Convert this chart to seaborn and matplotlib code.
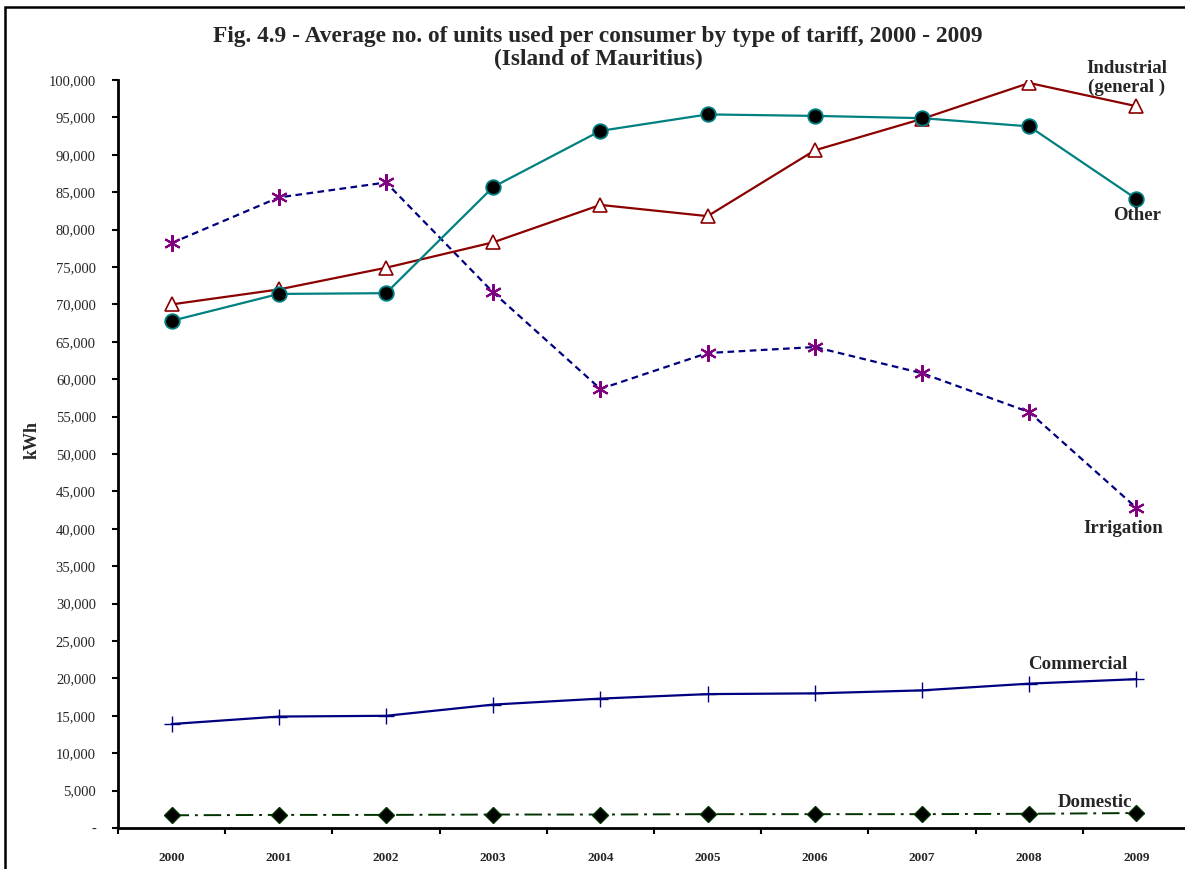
import numpy as np
import pandas as pd
import matplotlib
matplotlib.use('Agg')
import matplotlib.pyplot as plt
from matplotlib.patches import Rectangle
from matplotlib.ticker import FuncFormatter, FixedLocator
import seaborn as sns

# Data (kWh per consumer)
years = ['2000', '2001', '2002', '2003', '2004', '2005', '2006', '2007', '2008', '2009']
industrial = [70000, 72000, 74900, 78300, 83300, 81800, 90600, 94800, 99600, 96500]
other = [67800, 71400, 71500, 85700, 93200, 95400, 95200, 94900, 93800, 84100]
irrigation = [78200, 84300, 86300, 71600, 58700, 63500, 64300, 60800, 55600, 42800]
commercial = [13900, 14900, 15000, 16500, 17300, 17900, 18000, 18400, 19300, 19900]
domestic = [1700, 1750, 1750, 1800, 1800, 1850, 1850, 1850, 1900, 2000]

title = 'Fig. 4.9 - Average no. of units used per consumer by type of tariff, 2000 - 2009\n(Island of Mauritius)'

sns.set_theme(style='white')
plt.rcParams['font.family'] = ['Liberation Serif', 'DejaVu Serif']

pos = np.arange(len(years))
df = pd.DataFrame({'pos': pos, 'Industrial': industrial, 'Other': other,
                   'Irrigation': irrigation, 'Commercial': commercial,
                   'Domestic': domestic})

fig = plt.figure(figsize=(11.85, 8.69), dpi=100)
ax = fig.add_axes([118 / 1185, 1 - 828 / 869, 1072 / 1185, 748 / 869])

# Irrigation - navy dashed line, purple asterisks
sns.lineplot(data=df, x='pos', y='Irrigation', ax=ax, color='#000080',
             linestyle=(0, (3, 2)), linewidth=1.6, marker=(6, 2, 0),
             markersize=12, markeredgecolor='#800080', markeredgewidth=1.5)
# Industrial - dark red, open triangles
sns.lineplot(data=df, x='pos', y='Industrial', ax=ax, color='#8B0000',
             linewidth=1.6, marker='^', markersize=10.5,
             markerfacecolor='white', markeredgecolor='#8B0000',
             markeredgewidth=1.2)
# Other - teal, black circles
sns.lineplot(data=df, x='pos', y='Other', ax=ax, color='#008080',
             linewidth=1.6, marker='o', markersize=10.5,
             markerfacecolor='black', markeredgecolor='#008080',
             markeredgewidth=1.3)
# Commercial - navy, plus markers
sns.lineplot(data=df, x='pos', y='Commercial', ax=ax, color='#000080',
             linewidth=1.6, marker='+', markersize=11,
             markeredgecolor='#000080', markeredgewidth=1.0)
# Domestic - dark green dash-dot, black diamonds
sns.lineplot(data=df, x='pos', y='Domestic', ax=ax, color='#003300',
             linestyle=(0, (9, 3, 1.5, 3)), linewidth=1.4, marker='D',
             markersize=8.5, markerfacecolor='black',
             markeredgecolor='#003300', markeredgewidth=1.0)

ax.set_xlim(-0.5, len(years) - 0.5)
ax.set_ylim(0, 100000)
ax.set_yticks(np.arange(0, 100001, 5000))
ax.yaxis.set_major_formatter(FuncFormatter(
    lambda v, p: '-' if v == 0 else f'{int(v):,}'))

# category ticks between years, labels centred on years
ax.xaxis.set_major_locator(FixedLocator(np.arange(-0.5, len(years), 1.0)))
ax.xaxis.set_minor_locator(FixedLocator(pos))
ax.set_xticklabels([])
ax.set_xticklabels(years, minor=True)
ax.tick_params(axis='x', which='major', direction='out', length=4,
               width=1.5, color='black', bottom=True)
ax.tick_params(axis='x', which='minor', length=0, pad=17,
               labelsize=9.5)
for t in ax.get_xticklabels(minor=True):
    t.set_fontweight('bold')
ax.tick_params(axis='y', direction='out', length=4, width=1.5,
               color='black', left=True, pad=12, labelsize=10.5)

for s in ['top', 'right']:
    ax.spines[s].set_visible(False)
for s in ['left', 'bottom']:
    ax.spines[s].set_color('black')
    ax.spines[s].set_linewidth(2.0)

ax.set_xlabel('')
ax.set_ylabel('')
fig.text(32 / 1185, 1 - 440 / 869, 'kWh', rotation=90, ha='center',
         va='center', fontsize=13, fontweight='bold')

fig.text(598 / 1185, 1 - 48 / 869, title, ha='center', va='center',
         fontsize=16.8, fontweight='bold', linespacing=1.15)

# series labels
lab = dict(ha='center', va='center', fontsize=13.6, fontweight='bold')
ax.text(8.91, 100300, 'Industrial\n(general )', linespacing=1.1, **lab)
ax.text(9.01, 81950, 'Other', **lab)
ax.text(8.875, 40000, 'Irrigation', **lab)
ax.text(8.455, 21800, 'Commercial', **lab)
ax.text(8.61, 3350, 'Domestic', **lab)

# outer frame of the figure
fig.patches.append(Rectangle((5 / 1185, -0.1), 1.2, 1.1 - 7 / 869,
                             transform=fig.transFigure, fill=False,
                             edgecolor='black', linewidth=1.8,
                             clip_on=False))

fig.savefig('out.png', dpi=100)
